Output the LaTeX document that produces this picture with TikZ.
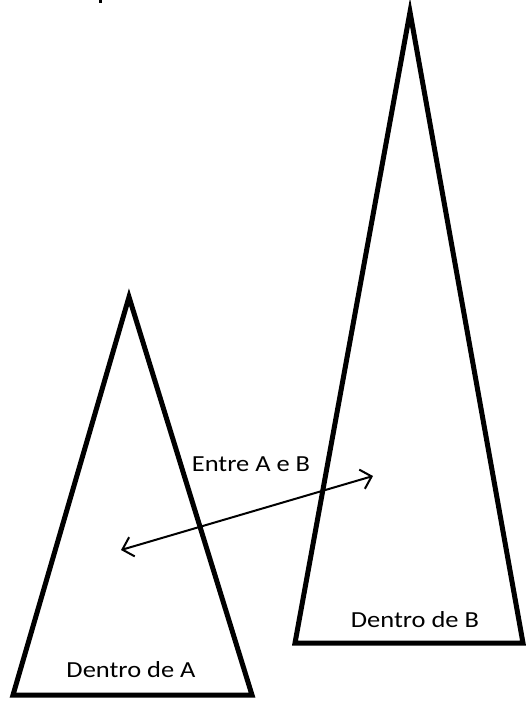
\documentclass[tikz,border=0pt]{standalone}
\usepackage{fontspec}
\setmainfont{Carlito}
\usetikzlibrary{arrows.meta}
\tikzset{
  tri/.style={draw=black, line width=5pt, miter limit=20},
  lbl/.style={font=\fontsize{23}{27}\selectfont, inner sep=0pt, text=black, xscale=1.15},
  dbl/.style={line width=2pt, {Straight Barb[length=10pt,width=20pt,line width=2pt]}-{Straight Barb[length=10pt,width=20pt,line width=2pt]}}
}
\begin{document}
\begin{tikzpicture}[x=1pt,y=-1pt]
\useasboundingbox (0,0) rectangle (527,701);
% fragment at top
\fill[black] (99,0) rectangle (101.5,3.5);
% triangle A
\path[tri] (129,297) -- (252,695) -- (13,695) -- cycle;
% triangle B
\path[tri] (410,12) -- (523,643) -- (295,643) -- cycle;
\node[lbl] (dentroA) at (131,670) {Dentro de A};
\node[lbl] (dentroB) at (415,620) {Dentro de B};
\node[lbl] (entre) at (251,464) {Entre A e B};
\coordinate (pa) at (121,550);
\coordinate (pb) at (373,476);
\draw[dbl] (pa) -- (pb);
\end{tikzpicture}
\end{document}
